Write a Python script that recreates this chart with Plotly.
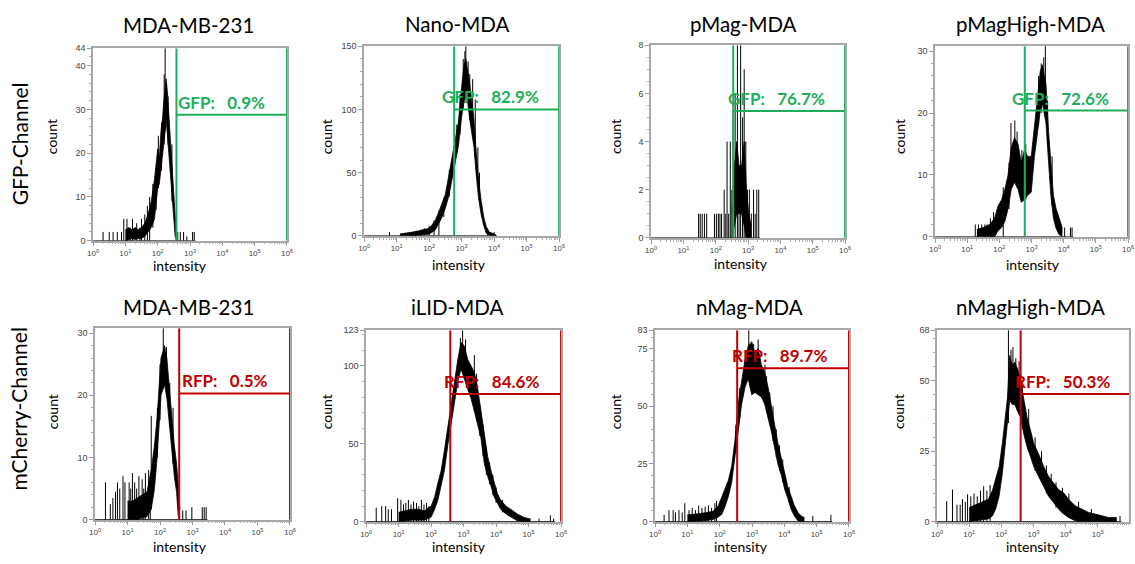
import plotly.graph_objects as go

# ---------------- data ----------------
titles = ["MDA-MB-231", "Nano-MDA", "pMag-MDA", "pMagHigh-MDA",
          "MDA-MB-231", "iLID-MDA", "nMag-MDA", "nMagHigh-MDA"]
row_labels = ["GFP-Channel", "mCherry-Channel"]
channel = ["GFP", "GFP", "GFP", "GFP", "RFP", "RFP", "RFP", "RFP"]
percent = [0.9, 82.9, 76.7, 72.6, 0.5, 84.6, 89.7, 50.3]
gate_logx = [2.58, 2.77, 2.54, 2.79, 2.59, 2.59, 2.54, 2.6]
gate_y = [28.8, 100, 5.27, 20.4, 20.3, 82, 66.5, 45.3]
y_max = [44, 150, 8, 30.8, 30.8, 123, 83, 68]
y_major = [[0, 10, 20, 30, 40, 44], [0, 50, 100, 150], [0, 2, 4, 6, 8], [0, 10, 20, 30],
           [0, 10, 20, 30], [0, 50, 100, 123], [0, 25, 50, 75, 83], [0, 25, 50, 68]]
y_minor_step = [2, 10, 0.5, 2, 2, 10, 5, 5]
x_tick_exp = [0, 1, 2, 3, 4, 5, 6]

# histogram bodies: log10(intensity), upper / lower envelope of the noisy trace
p1_logx = [1.0, 1.1, 1.2, 1.3, 1.4, 1.5, 1.6, 1.7, 1.8, 1.9, 2.0, 2.05, 2.1, 2.15, 2.19, 2.23, 2.26, 2.3, 2.34, 2.38, 2.42, 2.46, 2.5, 2.54, 2.58]
p1_hi = [2.5, 3, 2.5, 3, 2.5, 3, 4, 6, 9, 14, 21, 19, 25, 28, 32, 35, 37, 34, 29, 24, 20, 15, 10, 6, 1]
p1_lo = [0, 0.3, 0.5, 0.3, 0.5, 0.5, 1, 2, 3, 5, 12, 13, 16, 20, 22, 25, 28, 24, 20, 15, 12, 7, 3, 1, 0]
# single-bin spikes rising from zero
p1_tail_x = [0.31, 0.5, 0.62, 0.75, 0.88, 0.95, 1.05, 1.15, 1.22, 1.35, 1.45, 1.5, 1.6, 1.68, 1.75, 2.62, 2.7, 2.8, 2.9, 3.08, 3.13]
p1_tail_h = [2, 2, 2, 2, 2, 5, 5, 3, 5, 4, 3, 5, 6, 8, 10, 2, 2, 2, 1, 2, 2]
# spikes standing out of the dense body: x, base, top
p1_pk_x = [1.85, 1.95, 2.02, 2.12, 2.2, 2.23, 2.27, 2.32, 2.44]
p1_pk_lo = [3, 7, 12, 16, 22, 25, 27, 22, 9]
p1_pk_hi = [13, 17, 24, 27, 38, 44, 36, 33, 22]

p2_logx = [1.1, 1.3, 1.5, 1.7, 1.9, 2.0, 2.1, 2.2, 2.3, 2.4, 2.5, 2.6, 2.7, 2.8, 2.9, 3.0, 3.07, 3.13, 3.19, 3.25, 3.32, 3.38, 3.45, 3.52, 3.6, 3.68, 3.76, 3.85, 3.95, 4.05]
p2_hi = [1.5, 2, 3, 4, 5, 6, 9, 13, 19, 26, 33, 47, 62, 75, 90, 118, 135, 140, 131, 120, 105, 92, 66, 45, 28, 15, 7, 3, 2, 1]
p2_lo = [0, 0, 0, 0.5, 1, 1.5, 3, 5, 10, 15, 22, 31, 44, 57, 71, 94, 107, 110, 105, 92, 80, 70, 48, 30, 17, 8, 2, 0.5, 0, 0]
p2_tail_x = [0.78, 1.25, 1.45, 1.6, 1.75, 1.85, 2.0, 2.15, 2.3, 3.8, 4.0]
p2_tail_h = [3, 2, 3, 4, 5, 6, 8, 12, 20, 6, 3]
p2_pk_x = [2.45, 2.62, 2.75, 2.85, 2.95, 3.05, 3.1, 3.13, 3.2, 3.25, 3.34, 3.42, 3.5, 3.55]
p2_pk_lo = [15, 31, 52, 65, 80, 100, 105, 108, 105, 92, 78, 62, 40, 28]
p2_pk_hi = [30, 52, 70, 88, 112, 140, 146, 150, 138, 128, 124, 108, 70, 50]

p3_logx = [2.5, 2.58, 2.65, 2.72, 2.8, 2.88, 2.95, 3.02, 3.1]
p3_hi = [1, 3, 4, 3, 3, 4, 2, 1, 0.5]
p3_lo = [0, 0.5, 1, 1, 1, 0.5, 0, 0, 0]
p3_tail_x = [1.47, 1.52, 1.58, 1.65, 1.72, 1.96, 2.02, 2.08, 2.13, 2.18, 2.26, 2.31, 2.35, 2.4, 2.45, 2.5, 2.54, 2.6, 2.67, 2.72, 2.77, 2.83, 2.88, 2.93, 2.98, 3.04, 3.1, 3.17, 3.22, 3.27, 3.33]
p3_tail_h = [1, 1, 1, 1, 1, 1, 1, 1, 1, 1, 2, 1, 4, 1, 4, 2, 5, 6, 8, 3, 8, 5, 7, 4, 2, 2, 1, 2, 1, 2, 2]
p3_pk_x = []
p3_pk_lo = []
p3_pk_hi = []

p4_logx = [1.3, 1.5, 1.7, 1.85, 1.96, 2.07, 2.17, 2.27, 2.37, 2.47, 2.58, 2.68, 2.78, 2.88, 2.99, 3.09, 3.19, 3.27, 3.34, 3.4, 3.45, 3.53, 3.6, 3.68, 3.76, 3.85, 3.96]
p4_hi = [1.2, 1.5, 2, 3, 5, 6, 7.7, 10, 14.5, 16, 15, 12, 14, 13, 13, 18, 22.5, 26.7, 27.8, 26, 24.6, 17, 12, 6.7, 4.6, 3, 1.4]
p4_lo = [0, 0, 0, 0, 1, 1.5, 2.5, 4.5, 7.7, 8.8, 7.7, 5.6, 6, 6.7, 7.2, 13, 17, 20.4, 21.5, 20, 18.3, 12, 6.7, 3, 1.4, 0.4, 0]
p4_tail_x = [1.25, 1.35, 1.45, 1.55, 1.62, 1.72, 1.82, 2.12, 4.03, 4.21, 4.26]
p4_tail_h = [2, 2, 2, 2, 2, 3, 4, 8, 1.5, 1.5, 1.5]
p4_pk_x = [2.3, 2.36, 2.48, 2.55, 2.7, 2.82, 3.22, 3.3, 3.38, 3.43, 3.5, 3.64]
p4_pk_lo = [4.5, 8, 9, 8, 6, 6, 18, 20, 21, 20, 15, 5]
p4_pk_hi = [12, 18.4, 18.8, 17, 14, 15, 26, 28, 29, 31, 22, 13]

p5_logx = [1.0, 1.15, 1.3, 1.45, 1.6, 1.73, 1.83, 1.91, 1.98, 2.03, 2.09, 2.14, 2.21, 2.29, 2.37, 2.44, 2.51, 2.56, 2.61]
p5_hi = [3, 3, 3.5, 4, 4.5, 8, 12, 16.5, 22.8, 26, 27, 28, 26, 21, 16.5, 12, 9, 5, 1.7]
p5_lo = [0, 0, 0, 0.3, 0.5, 1.7, 5, 10, 16.5, 20, 21, 21.7, 19.6, 14.9, 11, 7, 4.4, 0.7, 0]
p5_tail_x = [0.32, 0.47, 0.55, 0.63, 0.69, 0.76, 0.86, 0.92, 1.05, 1.1, 1.15, 1.22, 1.28, 1.35, 1.45, 1.5, 1.55, 1.65, 1.7, 2.7, 2.8, 2.98, 3.3, 3.36, 3.42]
p5_tail_h = [6, 2.5, 3.5, 4.5, 6, 5, 7, 6, 6, 5, 7.5, 6, 5, 7, 6.5, 5, 7.5, 8, 7, 1.5, 1.5, 2, 2, 2, 2]
p5_pk_x = [1.73, 1.92, 2.0, 2.1, 2.2, 2.3, 2.4]
p5_pk_lo = [1.7, 10, 16, 21, 20, 15, 9]
p5_pk_hi = [16.7, 18, 25, 30.8, 27.8, 22, 18]

p6_logx = [1.0, 1.2, 1.4, 1.6, 1.8, 2.0, 2.11, 2.21, 2.31, 2.41, 2.52, 2.62, 2.72, 2.82, 2.92, 3.02, 3.13, 3.23, 3.33, 3.43, 3.53, 3.64, 3.74, 3.84, 3.94, 4.04, 4.14, 4.3, 4.45, 4.65, 4.86, 5.06]
p6_hi = [6, 7, 8, 8, 7, 10, 16, 25, 33, 46, 62, 75, 92, 104, 115, 113, 104, 100, 96, 86, 71, 54, 42, 33, 25, 18, 14, 10, 8, 5, 2.7, 1.7]
p6_lo = [0, 0.5, 1, 1, 1, 3, 8, 14, 23, 33, 50, 63, 77, 90, 98, 92, 86, 79, 71, 63, 54, 37, 29, 23, 16, 12, 8, 5, 3, 0.6, 0, 0]
p6_tail_x = [0.31, 0.48, 0.6, 0.68, 0.78, 0.97, 1.07, 1.15, 1.22, 1.3, 1.38, 1.46, 1.55, 1.62, 1.7, 1.78, 1.86, 1.93, 5.32, 5.67, 5.77]
p6_tail_h = [9, 10, 10, 8, 8, 15, 14, 11, 12, 14, 11, 13, 12, 10, 14, 11, 12, 10, 2, 4, 2]
p6_pk_x = [2.9, 2.97, 3.06, 3.33, 3.4, 3.5, 3.6, 3.7, 3.8, 3.9, 4.0, 4.2]
p6_pk_lo = [98, 96, 92, 71, 65, 55, 42, 30, 24, 17, 12, 6]
p6_pk_hi = [118, 123, 117, 107, 95, 75, 62, 48, 38, 30, 22, 14]

p7_logx = [1.0, 1.2, 1.4, 1.6, 1.8, 1.96, 2.07, 2.17, 2.27, 2.37, 2.47, 2.58, 2.68, 2.78, 2.88, 2.99, 3.09, 3.19, 3.29, 3.39, 3.5, 3.6, 3.7, 3.8, 3.91, 4.01, 4.11, 4.21, 4.31, 4.42, 4.52, 4.62]
p7_hi = [3, 3.2, 3.5, 4, 4.5, 7, 11, 14, 18, 24, 35, 52, 62, 70, 76, 78, 73, 75, 68, 65, 58, 49, 42, 34, 27, 21, 15, 11, 7, 4, 2.5, 1.8]
p7_lo = [0, 0, 0.3, 0.5, 1, 2, 3.3, 6.8, 11, 17, 28, 41, 51, 58, 62, 55, 56, 55, 54, 51, 45, 39, 32, 25, 20, 14, 10, 5.4, 2.5, 0.4, 0, 0]
p7_tail_x = [0.28, 0.43, 0.56, 0.63, 0.74, 0.84, 0.92, 1.05, 1.15, 1.25, 1.35, 1.45, 1.55, 1.65, 1.75, 1.85, 1.9, 4.88, 5.44]
p7_tail_h = [3, 5, 5, 4, 5, 4, 8, 5, 6, 5, 7, 6, 6.5, 7, 6, 8, 9, 2.5, 3]
p7_pk_x = [2.5, 2.62, 2.9, 2.95, 3.05, 3.19, 3.4, 3.45, 3.55, 3.65, 3.75, 3.85, 3.95, 4.15]
p7_pk_lo = [30, 45, 62, 60, 56, 55, 51, 48, 42, 35, 28, 22, 17, 8]
p7_pk_hi = [42, 58, 83, 75, 77, 79, 68, 63, 56, 50, 40, 33, 27, 15]

p8_logx = [1.0, 1.2, 1.4, 1.6, 1.72, 1.82, 1.93, 2.03, 2.1, 2.19, 2.26, 2.34, 2.42, 2.51, 2.6, 2.7, 2.8, 2.91, 3.01, 3.16, 3.32, 3.47, 3.63, 3.78, 3.94, 4.09, 4.3, 4.51, 4.71, 4.92, 5.12, 5.33, 5.59]
p8_hi = [5, 6, 7, 8, 11, 15, 19.5, 27.7, 34.6, 44, 59, 55.6, 56.7, 54, 49.8, 42.8, 37, 32.3, 27.7, 24, 19.5, 16, 13.7, 11.4, 10.2, 8, 5.6, 4.4, 3.3, 2.7, 2.1, 1.5, 1.5]
p8_lo = [0, 0.3, 0.5, 1, 2, 4.4, 9, 17, 25, 34.6, 43, 41.6, 41.6, 39, 37, 31, 26.5, 23, 19.5, 16, 12.6, 9, 6.7, 4.4, 2.7, 1.5, 0.3, 0, 0, 0, 0, 0, 0]
p8_tail_x = [0.3, 0.48, 0.62, 0.72, 0.79, 0.88, 0.95, 1.05, 1.15, 1.25, 1.35, 1.45, 1.55, 1.65, 4.4, 4.8, 5.69]
p8_tail_h = [7.3, 11.4, 6, 6, 8, 7, 9.7, 9, 10, 9, 11, 12.6, 11, 13, 7, 4.5, 2]
p8_pk_x = [2.22, 2.3, 2.36, 2.45, 2.55, 2.65, 2.85, 3.05, 3.25, 3.4, 3.55, 3.7, 3.9, 4.1]
p8_pk_lo = [35, 43, 42, 41, 38, 33, 25, 18, 14, 10, 8, 5, 3, 1.5]
p8_pk_hi = [68, 61, 62, 58, 57, 50, 40, 30, 25, 20, 17, 14, 12, 10]

panels = [
    (p1_logx, p1_hi, p1_lo, p1_tail_x, p1_tail_h, p1_pk_x, p1_pk_lo, p1_pk_hi),
    (p2_logx, p2_hi, p2_lo, p2_tail_x, p2_tail_h, p2_pk_x, p2_pk_lo, p2_pk_hi),
    (p3_logx, p3_hi, p3_lo, p3_tail_x, p3_tail_h, p3_pk_x, p3_pk_lo, p3_pk_hi),
    (p4_logx, p4_hi, p4_lo, p4_tail_x, p4_tail_h, p4_pk_x, p4_pk_lo, p4_pk_hi),
    (p5_logx, p5_hi, p5_lo, p5_tail_x, p5_tail_h, p5_pk_x, p5_pk_lo, p5_pk_hi),
    (p6_logx, p6_hi, p6_lo, p6_tail_x, p6_tail_h, p6_pk_x, p6_pk_lo, p6_pk_hi),
    (p7_logx, p7_hi, p7_lo, p7_tail_x, p7_tail_h, p7_pk_x, p7_pk_lo, p7_pk_hi),
    (p8_logx, p8_hi, p8_lo, p8_tail_x, p8_tail_h, p8_pk_x, p8_pk_lo, p8_pk_hi),
]

# ---------------- layout geometry (pixels) ----------------
W, H = 1135, 564
boxes = [(88, 284, 44, 240), (362, 559, 42, 235), (652, 848, 41, 237), (939, 1134, 42, 236),
         (90, 287, 329, 524), (364, 561, 331, 526), (656, 852, 331, 526), (941, 1135, 331, 526)]
x_range_top = [6, 6, 6, 6, 6, 6, 6, 5.97]
title_pos = [(184, 20), (456, 19), (745, 19), (1035, 19), (184, 307), (456, 307), (751, 307), (1035, 307)]
count_pos = [(46, 134), (324, 134), (616, 134), (903, 134), (47, 414), (324, 414), (616, 414), (902, 414)]
intens_pos = [(176, 265), (458, 264), (743, 263), (1038, 264), (176, 551), (458, 551), (743, 551), (1038, 551)]
gate_text_px = [172, 439, 728, 1015, 176, 441, 732, 1018]
row_label_pos = [(14, 141), (13, 411)]
GREEN = "#1fae58"
RED = "#c00000"
FONT = "Lato, 'Open Sans', sans-serif"
TICKFONT = "'Liberation Sans', Arial, sans-serif"

fig = go.Figure()
annotations = []
layout = dict(width=W, height=H, margin=dict(l=0, r=0, t=0, b=0, pad=0),
              paper_bgcolor="white", plot_bgcolor="white", showlegend=False,
              hovermode=False)

minor_x = [d * 10 ** e for e in range(0, 6) for d in range(2, 10)]

for i in range(8):
    n = i + 1
    xa = "x" if n == 1 else f"x{n}"
    ya = "y" if n == 1 else f"y{n}"
    l, r, t, b = boxes[i]
    logx, hi, lo, tx_, th_, pkx, pklo, pkhi = panels[i]
    color = GREEN if channel[i] == "GFP" else RED

    last = max(logx + tx_)
    fig.add_trace(go.Scatter(x=[1, 10 ** (last + 0.04)], y=[0, 0], mode="lines",
                             line=dict(color="black", width=1.2), xaxis=xa, yaxis=ya))
    fig.add_trace(go.Scatter(x=[10 ** v for v in logx], y=lo, mode="lines",
                             line=dict(color="black", width=0.8), xaxis=xa, yaxis=ya))
    fig.add_trace(go.Scatter(x=[10 ** v for v in logx], y=hi, mode="lines", fill="tonexty",
                             fillcolor="black", line=dict(color="black", width=0.8),
                             xaxis=xa, yaxis=ya))
    spx, spy = [], []
    for v, h in zip(tx_, th_):
        spx += [10 ** v, 10 ** v, None]
        spy += [0, h, None]
    for v, b0, h in zip(pkx, pklo, pkhi):
        spx += [10 ** v, 10 ** v, None]
        spy += [b0, h, None]
    fig.add_trace(go.Scatter(x=spx, y=spy, mode="lines", line=dict(color="black", width=1),
                             xaxis=xa, yaxis=ya))
    g = 10 ** gate_logx[i]
    fig.add_trace(go.Scatter(x=[g, g, None, 1e6, 1e6, None, g, 1e6],
                             y=[0, y_max[i], None, 0, y_max[i], None, gate_y[i], gate_y[i]],
                             mode="lines", line=dict(color=color, width=2),
                             xaxis=xa, yaxis=ya))

    xkey = "xaxis" if n == 1 else f"xaxis{n}"
    ykey = "yaxis" if n == 1 else f"yaxis{n}"
    layout[xkey] = dict(domain=[l / W, r / W], anchor=ya, type="log",
                        range=[0, x_range_top[i]],
                        tickvals=[10 ** e for e in x_tick_exp],
                        ticktext=[f"10<sup>{e}</sup>" for e in x_tick_exp],
                        ticks="outside", ticklen=4, tickcolor="#9a9a9a",
                        tickfont=dict(family=TICKFONT, size=8, color="#444"),
                        minor=dict(tickvals=minor_x, ticks="outside", ticklen=2, tickcolor="#b0b0b0"),
                        showgrid=False, zeroline=False, showline=True, linecolor="#a8a8a8",
                        linewidth=1.5, mirror=True, fixedrange=True)
    layout[ykey] = dict(domain=[1 - b / H, 1 - t / H], anchor=xa, range=[0, y_max[i]],
                        tickvals=y_major[i], ticktext=[str(v) for v in y_major[i]],
                        ticks="outside", ticklen=4, tickcolor="#9a9a9a",
                        tickfont=dict(family=TICKFONT, size=9, color="#444"),
                        minor=dict(dtick=y_minor_step[i], tick0=0, ticks="outside", ticklen=2,
                                   tickcolor="#b0b0b0"),
                        showgrid=False, zeroline=False, showline=True, linecolor="#a8a8a8",
                        linewidth=1.5, mirror=True, fixedrange=True)

    px_, py_ = title_pos[i]
    annotations.append(dict(text=titles[i], x=px_ / W, y=1 - py_ / H, xref="paper", yref="paper",
                            showarrow=False, xanchor="center", yanchor="middle",
                            font=dict(family=FONT, size=20.5, color="black")))
    cx, cy = count_pos[i]
    annotations.append(dict(text="count", x=cx / W, y=1 - cy / H, xref="paper", yref="paper",
                            showarrow=False, textangle=-90, xanchor="center", yanchor="middle",
                            font=dict(family=FONT, size=14, color="black")))
    ix, iy = intens_pos[i]
    annotations.append(dict(text="intensity", x=ix / W, y=1 - iy / H, xref="paper", yref="paper",
                            showarrow=False, xanchor="center", yanchor="middle",
                            font=dict(family=FONT, size=14, color="black")))
    annotations.append(dict(text=f"{channel[i]}:\u00a0\u00a0\u00a0{percent[i]}%",
                            x=gate_text_px[i] / W, y=gate_y[i], xref="paper", yref=ya,
                            showarrow=False, xanchor="left", yanchor="bottom",
                            font=dict(family=FONT, size=17, color=color, weight="bold")))

for lbl, (rx, ry) in zip(row_labels, row_label_pos):
    annotations.append(dict(text=lbl, x=rx / W, y=1 - ry / H, xref="paper", yref="paper",
                            showarrow=False, textangle=-90, xanchor="center", yanchor="middle",
                            font=dict(family=FONT, size=21, color="black")))

layout["annotations"] = annotations
fig.update_layout(**layout)
fig.write_html("out.html", config={"displayModeBar": False},
               post_script="document.body.style.margin='0';document.body.style.overflow='hidden';")
